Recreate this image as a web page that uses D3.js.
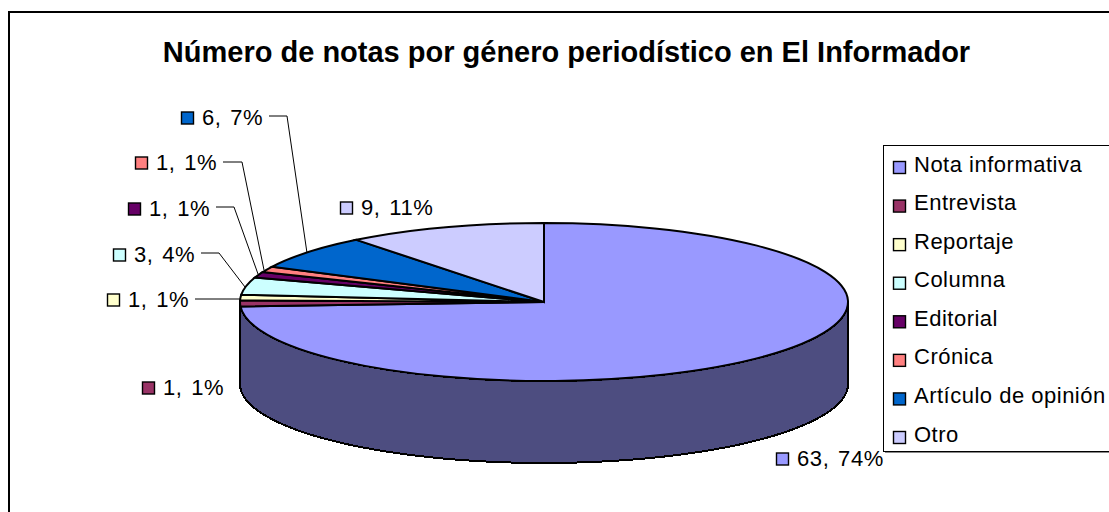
<!DOCTYPE html>
<html><head><meta charset="utf-8">
<script src="https://cdn.jsdelivr.net/npm/d3@7"></script>
<style>
html,body{margin:0;padding:0;background:#fff;overflow:hidden}
svg{display:block}
text{font-family:"Liberation Sans",Arial,sans-serif;fill:#000}
</style></head><body>
<svg id="c" width="1109" height="512"></svg>
<script>
const titleText = "Número de notas por género periodístico en El Informador";
const categories = ["Nota informativa","Entrevista","Reportaje","Columna","Editorial","Crónica","Artículo de opinión","Otro"];
const values = [63,1,1,3,1,1,6,9];
const topColors = ["#9999FF","#993366","#FFFFCC","#CCFFFF","#660066","#FF8080","#0066CC","#CCCCFF"];
const sideColors = ["#4D4D80","#4D1A33","#808066","#668080","#330033","#804040","#003366","#666680"];
// layout (label marker left, marker top)
const labelAnchors = [[776,452],[142,381],[107,293],[113,248],[128,202],[135,156],[181,111],[340,201]];
const leaderPaths = [null,null,
  [[195,299],[241,299]],
  [[201,253],[219,253],[245,287]],
  [[216,207],[234,207],[258,274]],
  [[223,162],[242,162],[264,270]],
  [[269,116],[287,116],[307,253]],
  null];

const svg = d3.select("#c");
const cx=544, cy=302, rx=304, ry=79, depth=82;

// frame
svg.append("rect").attr("x",9).attr("y",12).attr("width",1300).attr("height",700)
  .attr("fill","#fff").attr("stroke","#000").attr("stroke-width",2);

svg.append("text").attr("x",566.5).attr("y",62).attr("text-anchor","middle")
  .attr("font-weight","bold").attr("font-size",29).text(titleText);

const total = d3.sum(values);
const pct = d3.format(".0%");
const arcs = d3.pie().sort(null).value(d=>d)(values);
const pt=(a,dy=0)=>[cx+rx*Math.sin(a), cy-ry*Math.cos(a)+dy];
const line=d3.line();

// walls: front part of each slice
const H=Math.PI/2, L=3*Math.PI/2;
const walls = arcs.map((d,i)=>({i,a0:Math.max(d.startAngle,H),a1:Math.min(d.endAngle,L)})).filter(d=>d.a1>d.a0);
svg.append("g").selectAll("path").data(walls).join("path")
  .attr("d",d=>{
    const n=d3.range(0,61).map(k=>d.a0+(d.a1-d.a0)*k/60);
    return line([...n.map(a=>pt(a)),...n.reverse().map(a=>pt(a,depth))])+"Z";
  })
  .attr("fill",d=>sideColors[d.i]).attr("stroke","#000").attr("stroke-width",2).attr("stroke-linejoin","round")
  .attr("shape-rendering","crispEdges");

// top face, elliptical through d3.arc
const arcGen=d3.arc().innerRadius(0).outerRadius(rx);
svg.append("g").attr("transform",`translate(${cx},${cy}) scale(1,${ry/rx})`)
  .selectAll("path").data(arcs).join("path")
  .attr("d",arcGen).attr("fill",(d,i)=>topColors[i])
  .attr("stroke","#000").attr("stroke-width",2).attr("vector-effect","non-scaling-stroke");

// leaders
svg.append("g").selectAll("path").data(leaderPaths.filter(Boolean)).join("path")
  .attr("d",line).attr("fill","none").attr("stroke","#000").attr("stroke-width",1);

// data labels
const lab=svg.append("g").selectAll("g").data(values).join("g")
  .attr("transform",(d,i)=>`translate(${labelAnchors[i][0]},${labelAnchors[i][1]+0.5})`);
lab.append("rect").attr("x",.5).attr("y",.5).attr("width",12).attr("height",12)
  .attr("fill",(d,i)=>topColors[i]).attr("stroke","#000").attr("stroke-width",1.4);
lab.append("text").attr("x",21).attr("y",13).attr("font-size",22).attr("letter-spacing",0.6).attr("word-spacing",2)
  .text(d=>`${d}, ${pct(d/total)}`);

// legend
svg.append("rect").attr("x",885).attr("y",147).attr("width",300).attr("height",306).attr("fill","#888");
svg.append("rect").attr("x",883.5).attr("y",145.5).attr("width",300).attr("height",306)
  .attr("fill","#fff").attr("stroke","#000").attr("stroke-width",1);
const y=d3.scalePoint().domain(categories).range([161,431]);
const leg=svg.append("g").selectAll("g").data(categories).join("g")
  .attr("transform",d=>`translate(893,${y(d)})`);
leg.append("rect").attr("x",.5).attr("y",.5).attr("width",12).attr("height",12)
  .attr("fill",(d,i)=>topColors[i]).attr("stroke","#000").attr("stroke-width",1.4);
leg.append("text").attr("x",21).attr("y",10.5).attr("font-size",22).attr("letter-spacing",0.5).text(d=>d);
</script>
</body></html>
